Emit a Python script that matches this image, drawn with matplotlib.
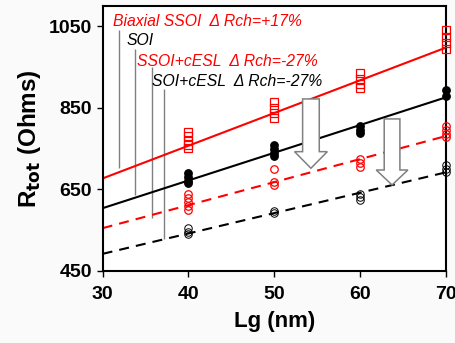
import numpy as np
import matplotlib
matplotlib.use('Agg')
import matplotlib.pyplot as plt
from matplotlib.patches import FancyArrow

plt.rcParams['font.family'] = ['Liberation Sans', 'DejaVu Sans']
plt.rcParams['mathtext.default'] = 'bf'

# gate lengths and measured Rtot values (several devices per Lg)
lg_ssoi = [40]*5 + [50]*4 + [60]*4 + [70]*4
r_ssoi = [790, 780, 770, 760, 752, 865, 850, 838, 826, 935, 920, 908, 898, 1040, 1025, 1010, 995]

lg_soi = [40]*4 + [50]*4 + [60]*3 + [70]*2
r_soi = [690, 680, 670, 666, 760, 750, 740, 733, 805, 795, 788, 895, 880]

lg_ssoi_cesl = [40]*5 + [50]*3 + [60]*3 + [70]*4
r_ssoi_cesl = [640, 630, 620, 610, 600, 700, 668, 662, 725, 714, 705, 805, 795, 786, 778]

lg_soi_cesl = [40]*3 + [50]*2 + [60]*3 + [70]*3
r_soi_cesl = [555, 546, 540, 596, 593, 640, 631, 625, 710, 700, 694]

# linear fits (end points at Lg = 30 and 70)
fit_x = [30, 70]
fit_ssoi = [677, 998]
fit_soi = [604, 876]
fit_ssoi_cesl = [555, 781]
fit_soi_cesl = [492, 692]

labels = ['Biaxial SSOI  \u0394 Rch=+17%', 'SOI',
          'SSOI+cESL  \u0394 Rch=-27%', 'SOI+cESL  \u0394 Rch=-27%']
label_colors = ['red', 'black', 'red', 'black']
label_x = [31.2, 32.8, 34.0, 35.7]
label_y = [1062, 1015, 965, 914]

# gray leader lines from labels to fit lines
lead_x = [31.9, 33.8, 35.7, 37.1]
lead_top = [1041, 995, 950, 896]
lead_bot = [702, 636, 580, 529]

fig = plt.figure(figsize=(4.56, 3.43), dpi=100, facecolor='#fafafa')
ax = fig.add_axes([0.225, 0.21, 0.753, 0.7725])
ax.set_facecolor('white')

dash = (4.8, 3.4)
ax.plot(fit_x, fit_ssoi, color='red', lw=1.5, zorder=2)
ax.plot(fit_x, fit_soi, color='black', lw=1.5, zorder=2)
ax.plot(fit_x, fit_ssoi_cesl, color='red', lw=1.5, dashes=dash, zorder=2)
ax.plot(fit_x, fit_soi_cesl, color='black', lw=1.5, dashes=dash, zorder=2)

ax.plot(lg_ssoi, r_ssoi, 's', ms=5.4, mfc='none', mec='red', mew=0.9, zorder=4, clip_on=False)
ax.plot(lg_soi, r_soi, 'o', ms=5.4, mfc='black', mec='black', mew=0.9, zorder=4, clip_on=False)
ax.plot(lg_ssoi_cesl, r_ssoi_cesl, 'o', ms=5.4, mfc='none', mec='red', mew=0.9, zorder=4, clip_on=False)
ax.plot(lg_soi_cesl, r_soi_cesl, 'o', ms=5.4, mfc='none', mec='black', mew=0.7, zorder=4, clip_on=False)

ax.vlines(lead_x, lead_bot, lead_top, color='#808080', lw=1.0, zorder=1)

for t, c, x, y in zip(labels, label_colors, label_x, label_y):
    ax.text(x, y, t, color=c, fontsize=11.3, style='italic', va='center', ha='left', zorder=5)

# hollow down arrows
for x, top, tip, w, hw, hl in [(54.27, 872, 702, 1.94, 3.82, 40.7),
                               (63.72, 823, 661, 1.83, 3.69, 36.7)]:
    ax.add_patch(FancyArrow(x, top, 0, tip - top, width=w, head_width=hw, head_length=hl,
                            length_includes_head=True, fc='white', ec='#808080', lw=1.1, zorder=3))

ax.set_xlim(30, 70)
ax.set_ylim(450, 1100)
ax.set_xticks([30, 40, 50, 60, 70])
ax.set_yticks([450, 650, 850, 1050])
ax.tick_params(direction='out', length=4.5, width=1, labelsize=14, pad=3)
ax.tick_params(axis='x', pad=6)
for lab in ax.get_xticklabels() + ax.get_yticklabels():
    lab.set_fontweight('bold')
for s in ax.spines.values():
    s.set_linewidth(1.5)

ax.set_xlabel('Lg (nm)', fontsize=16, fontweight='bold', labelpad=6)
ax.set_ylabel(r'R$_{\mathbf{tot}}$ (Ohms)', fontsize=17.5, fontweight='bold', labelpad=4)

fig.savefig('out.png', dpi=100, facecolor=fig.get_facecolor())
